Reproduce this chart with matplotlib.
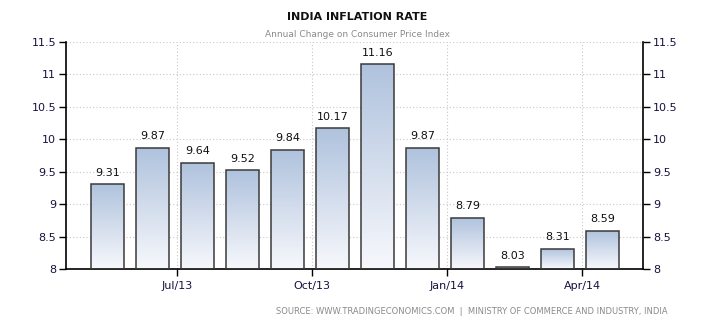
import numpy as np
import matplotlib
matplotlib.use("Agg")
import matplotlib.pyplot as plt
from matplotlib.colors import LinearSegmentedColormap

# ------------------------------------------------------
# DATA
# ------------------------------------------------------
months = ["May/13", "Jun/13", "Jul/13", "Aug/13", "Sep/13", "Oct/13",
          "Nov/13", "Dec/13", "Jan/14", "Feb/14", "Mar/14", "Apr/14"]
inflation = [9.31, 9.87, 9.64, 9.52, 9.84, 10.17, 11.16, 9.87, 8.79, 8.03, 8.31, 8.59]
tick_months = ["Jul/13", "Oct/13", "Jan/14", "Apr/14"]
y_ticks = [8, 8.5, 9, 9.5, 10, 10.5, 11, 11.5]

LABEL_COLOR = "#1a1040"
GRID_COLOR = "#c8c8c8"

fig = plt.figure(figsize=(7.1, 3.25), dpi=100)
ax = fig.add_axes([0.093, 0.172, 0.813, 0.699])

x = np.arange(len(months))
width = 0.73
ymin, ymax = 8, 11.5

grad = LinearSegmentedColormap.from_list("g", ["#f7f8fc", "#afc2dd"])
gradient = np.linspace(0, 1, 256).reshape(-1, 1)

bars = ax.bar(x, [v - ymin for v in inflation], width=width, bottom=ymin,
              color="none", edgecolor="#3a3a3a", linewidth=1.1, zorder=3)

for b, v in zip(bars, inflation):
    x0 = b.get_x()
    im = ax.imshow(gradient, cmap=grad, aspect="auto", origin="lower",
                   extent=[x0, x0 + width, ymin, v], zorder=2)
    im.set_clip_path(b)
    ax.text(x0 + width / 2, v + 0.1, f"{v:.2f}", ha="center", va="bottom",
            fontsize=8, color="#111111", zorder=4)

ax.set_xlim(-0.92, 11.91)
ax.set_ylim(ymin, ymax)

xt = [months.index(m) - 0.45 for m in tick_months]
ax.set_xticks(xt)
ax.set_xticklabels(tick_months)
ax.set_yticks(y_ticks)
ax.set_yticklabels([f"{t:g}" for t in y_ticks])

ax.tick_params(axis="both", direction="out", length=5, width=1,
               labelsize=8, labelcolor=LABEL_COLOR, colors="black")
ax.tick_params(axis="y", right=True, labelright=True, pad=2)
for lab in ax.get_xticklabels() + ax.get_yticklabels():
    lab.set_color(LABEL_COLOR)
for lab in ax.yaxis.get_ticklabels(which="both"):
    lab.set_color(LABEL_COLOR)
for t in ax.yaxis.get_major_ticks():
    t.label2.set_color(LABEL_COLOR)

ax.grid(True, linestyle=(0, (1, 2)), color=GRID_COLOR, linewidth=0.8, zorder=0)
ax.set_axisbelow(True)

ax.spines["top"].set_visible(False)
for s in ("left", "right", "bottom"):
    ax.spines[s].set_color("black")
    ax.spines[s].set_linewidth(1.2)

fig.text(0.503, 0.947, "INDIA INFLATION RATE", ha="center", va="center",
         fontsize=8, fontweight="bold", color="#111111")
fig.text(0.503, 0.893, "Annual Change on Consumer Price Index", ha="center",
         va="center", fontsize=6.5, color="#8a8a8a")
fig.text(0.941, 0.043,
         "SOURCE: WWW.TRADINGECONOMICS.COM  |  MINISTRY OF COMMERCE AND INDUSTRY, INDIA",
         ha="right", va="center", fontsize=6, color="#8a8a8a")

fig.savefig("out.png", dpi=100)
